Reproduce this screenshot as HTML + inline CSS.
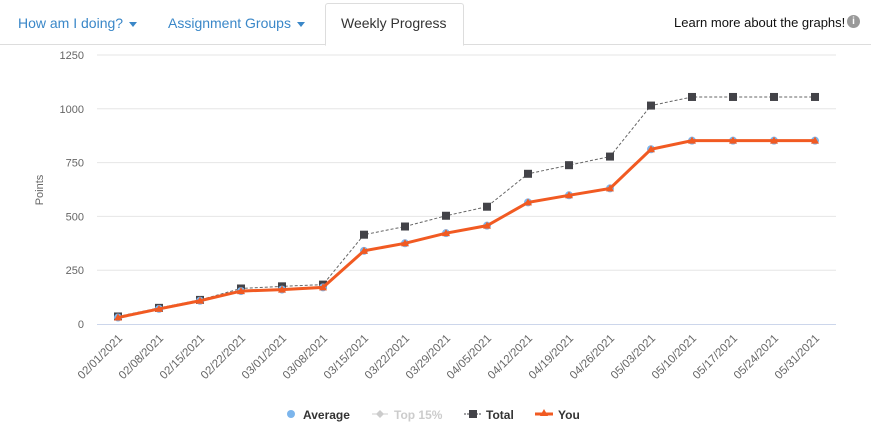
<!DOCTYPE html>
<html><head><meta charset="utf-8"><style>
body{margin:0;background:#fff;font-family:"Liberation Sans",sans-serif;}
#w{position:relative;width:871px;height:438px;overflow:hidden;}
.tab{position:absolute;top:15px;font-size:14px;color:#3a87c8;}
.caret{display:inline-block;width:0;height:0;border-left:4px solid transparent;border-right:4px solid transparent;border-top:5px solid #3a87c8;margin-left:6px;vertical-align:middle;}
</style></head><body><div id="w">
<div style="position:absolute;left:0;top:44px;width:871px;height:1px;background:#ddd"></div>
<div style="position:absolute;left:325px;top:3px;width:137px;height:41px;border:1px solid #ddd;border-bottom:1px solid #fff;border-radius:3px 3px 0 0;background:#fff"></div>
<div class="tab" style="left:18px">How am I doing?<span class="caret"></span></div>
<div class="tab" style="left:168px">Assignment Groups<span class="caret"></span></div>
<div class="tab" style="left:341px;color:#333">Weekly Progress</div>
<div style="position:absolute;left:674px;top:15px;font-size:13px;color:#111">Learn more about the graphs!</div>
<div style="position:absolute;left:847px;top:15px;width:13px;height:13px;border-radius:50%;background:#999;color:#fff;font-size:10px;font-weight:bold;text-align:center;line-height:13px">i</div>
<svg id="s" width="871" height="438" style="position:absolute;left:0;top:0" font-family="Liberation Sans, sans-serif"></svg>
</div>
<script>
var s=document.getElementById('s'),h='';
function Y(v){return 324-v*0.2152;}
function X(i){return 118+i*41;}
[250,500,750,1000,1250].forEach(function(v){h+='<line x1="97" x2="836" y1="'+Y(v)+'" y2="'+Y(v)+'" stroke="#e6e6e6"/>';});
[0,250,500,750,1000,1250].forEach(function(v){h+='<text x="84" y="'+(Y(v)+4)+'" font-size="11" fill="#666" text-anchor="end">'+v+'</text>';});
h+='<line x1="97" x2="836" y1="324.5" y2="324.5" stroke="#ccd6eb"/>';
h+='<text transform="translate(43,190) rotate(-90)" font-size="11" fill="#666" text-anchor="middle">Points</text>';
var d=['02/01','02/08','02/15','02/22','03/01','03/08','03/15','03/22','03/29','04/05','04/12','04/19','04/26','05/03','05/10','05/17','05/24','05/31'];
for(var i=0;i<18;i++){h+='<text transform="translate('+(X(i)+5)+',339) rotate(-45)" font-size="11.5" fill="#666" text-anchor="end">'+d[i]+'/2021</text>';}
var T=[35,75,112,165,175,183,415,453,503,545,698,738,778,1015,1055,1055,1055,1055];
var U=[30,70,108,153,160,170,340,375,422,457,565,598,630,812,852,852,852,852];
function pts(a){return a.map(function(v,i){return X(i)+','+Y(v)}).join(' ');}
h+='<polyline points="'+pts(T)+'" fill="none" stroke="#666" stroke-width="1" stroke-dasharray="3,2"/>';
T.forEach(function(v,i){h+='<rect x="'+(X(i)-4)+'" y="'+(Y(v)-4)+'" width="8" height="8" fill="#434348"/>';});
U.forEach(function(v,i){h+='<circle cx="'+X(i)+'" cy="'+Y(v)+'" r="4" fill="#7cb5ec"/>';});
h+='<polyline points="'+pts(U)+'" fill="none" stroke="#f15a22" stroke-width="3"/>';
U.forEach(function(v,i){var x=X(i),y=Y(v);h+='<path d="M'+x+','+(y-4)+' L'+(x+4)+','+(y+3)+' L'+(x-4)+','+(y+3)+'Z" fill="#f15a22"/>';});
h+='<circle cx="291" cy="414" r="4" fill="#7cb5ec"/><text x="303" y="419" font-size="12" font-weight="bold" fill="#333">Average</text>';
h+='<line x1="372" x2="388" y1="414" y2="414" stroke="#ccc"/><path d="M380,410 L384,414 L380,418 L376,414Z" fill="#ccc"/><text x="394" y="419" font-size="12" font-weight="bold" fill="#ccc">Top 15%</text>';
h+='<line x1="464" x2="482" y1="414" y2="414" stroke="#434348" stroke-dasharray="2,1"/><rect x="469" y="410" width="8" height="8" fill="#434348"/><text x="486" y="419" font-size="12" font-weight="bold" fill="#333">Total</text>';
h+='<line x1="535" x2="553" y1="414" y2="414" stroke="#f15a22" stroke-width="3"/><path d="M544,409 L548,416 L540,416Z" fill="#f15a22"/><text x="558" y="419" font-size="12" font-weight="bold" fill="#333">You</text>';
s.innerHTML=h;
</script></body></html>
